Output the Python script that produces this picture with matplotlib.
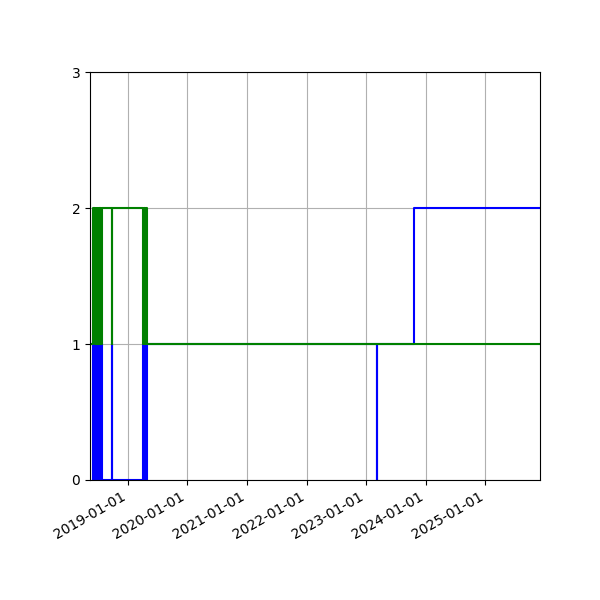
import matplotlib
matplotlib.use("Agg")
import matplotlib.pyplot as plt
import matplotlib.dates as mdates
import pandas as pd

# change points (steps-post)
dates = ['2018-05-30', '2018-05-31',
         '2018-06-16', '2018-06-19', '2018-06-22', '2018-06-25', '2018-06-28',
         '2018-07-02', '2018-07-06', '2018-07-10', '2018-07-14', '2018-07-18',
         '2018-07-22', '2018-07-27',
         '2018-09-26', '2018-09-29',
         '2019-04-07', '2019-04-12', '2019-04-17', '2019-04-22', '2019-04-28',
         '2023-03-08', '2023-03-09',
         '2023-10-21', '2025-12-01']
blue = [1, 0,
        1, 0, 1, 0, 1, 0, 1, 0, 1, 0, 1, 0,
        1, 0,
        1, 0, 1, 0, 1,
        0, 1,
        2, 2]
green = [1, 2,
         1, 2, 1, 2, 1, 2, 1, 2, 1, 2, 1, 2,
         1, 2,
         1, 2, 1, 2, 1,
         1, 1,
         1, 1]

x_start, x_end = '2018-05-15', '2025-12-01'

t = pd.to_datetime(dates)

fig, ax = plt.subplots(figsize=(6, 6), dpi=100)

ax.plot(t, blue, color='b', drawstyle='steps-post')
ax.plot(t, green, color='g', drawstyle='steps-post')

ax.set_xlim(pd.Timestamp(x_start), pd.Timestamp(x_end))
ax.set_ylim(0, 3)
ax.set_yticks([0, 1, 2, 3])
ax.xaxis.set_major_locator(mdates.YearLocator())
ax.xaxis.set_major_formatter(mdates.DateFormatter('%Y-%m-%d'))
ax.grid(True)
fig.autofmt_xdate()
fig.subplots_adjust(left=0.15, right=0.9, top=0.88, bottom=0.2)

fig.savefig('out.png')
